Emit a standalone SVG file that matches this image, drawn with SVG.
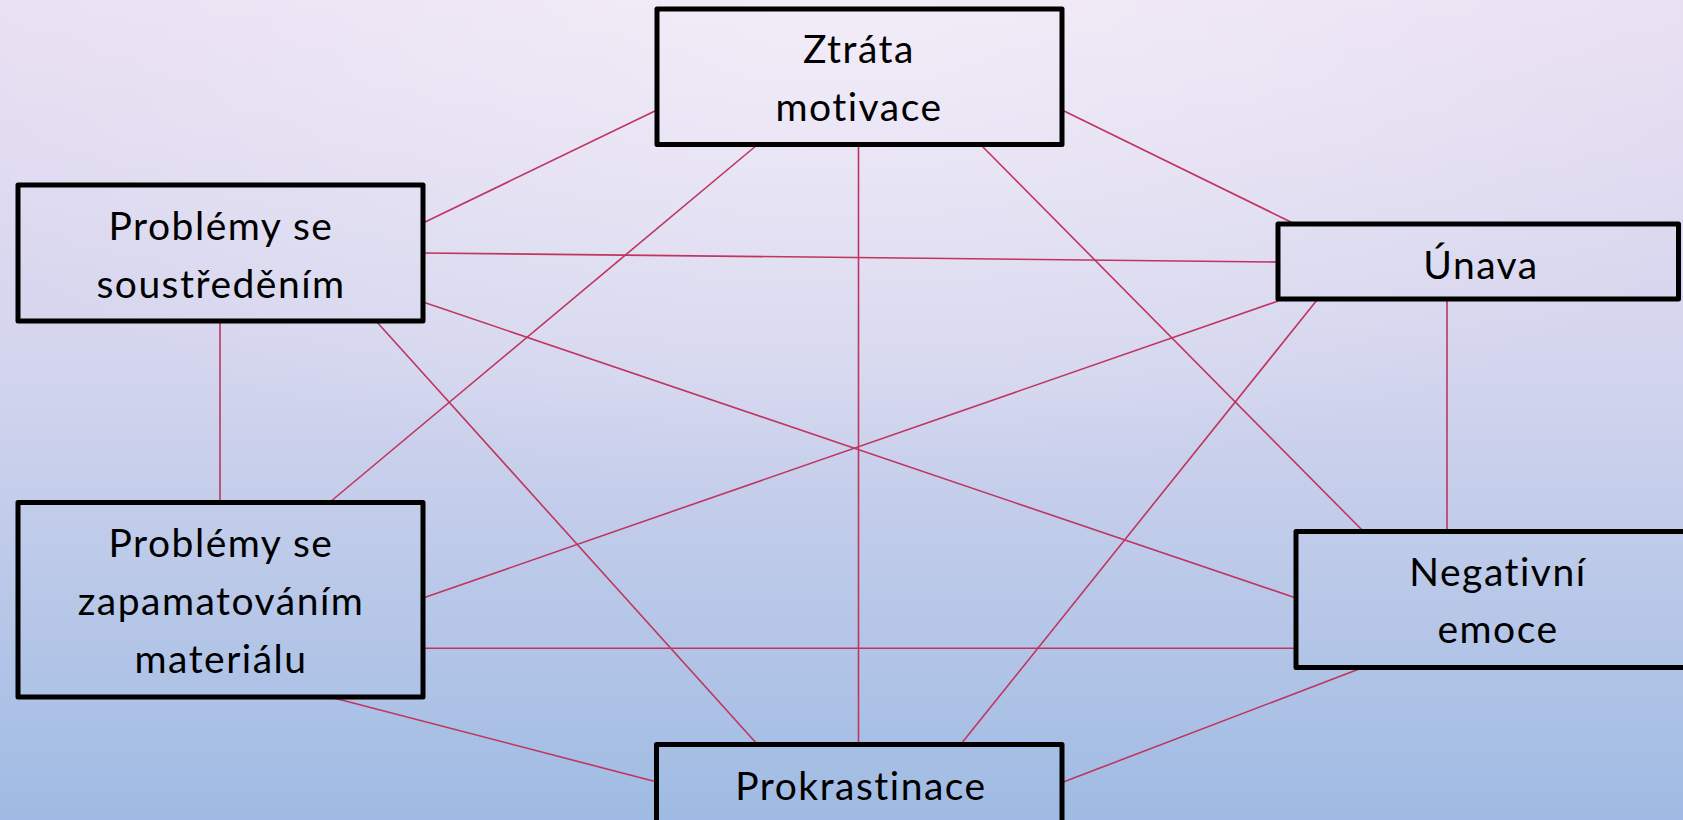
<svg xmlns="http://www.w3.org/2000/svg" width="1683" height="820" viewBox="0 0 1683 820">
  <defs>
    <linearGradient id="bg" x1="0" y1="0" x2="0" y2="1">
      <stop offset="0" stop-color="#e9def2"/>
      <stop offset="0.45" stop-color="#d3d5ee"/>
      <stop offset="1" stop-color="#9fbbe3"/>
    </linearGradient>
    <radialGradient id="glow" cx="0.5" cy="0" r="0.6">
      <stop offset="0" stop-color="#ffffff" stop-opacity="0.45"/>
      <stop offset="1" stop-color="#ffffff" stop-opacity="0"/>
    </radialGradient>
    <style>
      .node rect { fill: none; stroke: #000; stroke-width: 5; stroke-linejoin: round; }
      .node text { font-family: "Lato", "Liberation Sans", sans-serif; font-size: 39px; letter-spacing: 1.5px; fill: #000; text-anchor: middle; }
      #connectors line { stroke: #c0345f; stroke-width: 1.6; }
    </style>
  </defs>
  <rect width="1683" height="820" fill="url(#bg)"/>
  <rect width="1683" height="820" fill="url(#glow)"/>

  <g id="connectors">
    <line x1="657" y1="110" x2="423" y2="223"/>
    <line x1="1062" y1="110" x2="1295" y2="224"/>
    <line x1="757" y1="145" x2="330" y2="502"/>
    <line x1="858.5" y1="145" x2="858.5" y2="744"/>
    <line x1="981" y1="145" x2="1363" y2="531"/>
    <line x1="423" y1="253" x2="1278" y2="262"/>
    <line x1="423" y1="302" x2="1296" y2="598"/>
    <line x1="376" y1="321" x2="757" y2="744"/>
    <line x1="220" y1="321" x2="220" y2="502"/>
    <line x1="1278" y1="301" x2="423" y2="598"/>
    <line x1="1317" y1="300" x2="961" y2="744"/>
    <line x1="1447" y1="300" x2="1447" y2="531"/>
    <line x1="423" y1="648.3" x2="1296" y2="648.3"/>
    <line x1="330" y1="697" x2="657" y2="782"/>
    <line x1="1062" y1="782.5" x2="1363" y2="667.5"/>
  </g>

  <g id="node-ztrata" class="node">
    <rect x="657" y="9" width="405" height="135.5"/>
    <text x="859" y="63">Ztráta</text>
    <text x="859" y="120.5">motivace</text>
  </g>
  <g id="node-soustredeni" class="node">
    <rect x="18" y="185" width="405" height="136"/>
    <text x="221" y="240">Problémy se</text>
    <text x="221" y="298">soustředěním</text>
  </g>
  <g id="node-zapamatovani" class="node">
    <rect x="18" y="502.5" width="405" height="194.5"/>
    <text x="221" y="556.5">Problémy se</text>
    <text x="221" y="615">zapamatováním</text>
    <text x="221" y="672.5">materiálu</text>
  </g>
  <g id="node-unava" class="node">
    <rect x="1278" y="224" width="400.5" height="75"/>
    <text x="1481" y="279">Únava</text>
  </g>
  <g id="node-negativni" class="node">
    <rect x="1296" y="531.5" width="420" height="136"/>
    <text x="1498" y="586">Negativní</text>
    <text x="1498" y="643">emoce</text>
  </g>
  <g id="node-prokrastinace" class="node">
    <rect x="656.5" y="744.5" width="405.5" height="100"/>
    <text x="861" y="800">Prokrastinace</text>
  </g>
</svg>
